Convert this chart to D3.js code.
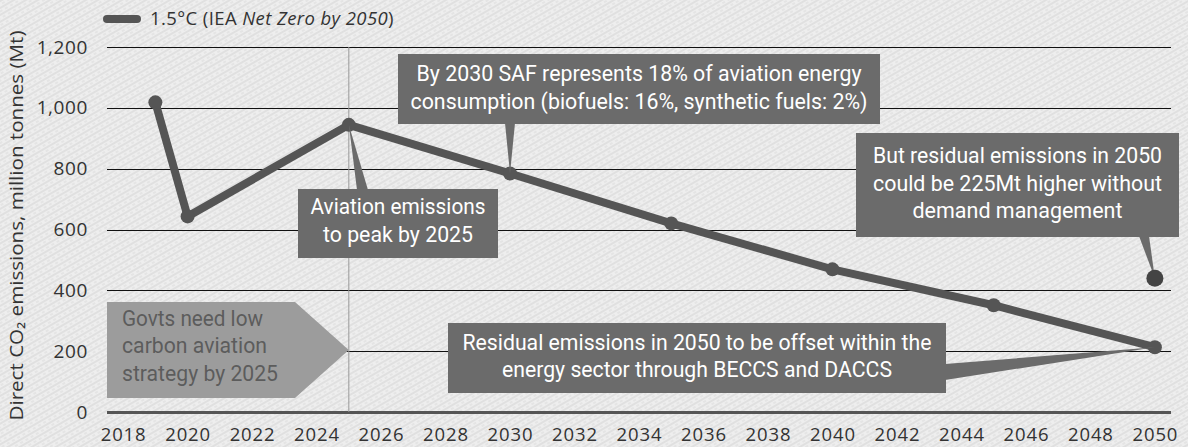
<!DOCTYPE html>
<html><head><meta charset="utf-8">
<script src="https://cdn.jsdelivr.net/npm/d3@7"></script>
<style>
html,body{margin:0;padding:0;background:#ececec;}
svg{display:block;}
</style></head>
<body>
<svg id="chart" width="1188" height="447"></svg>
<script>
// ---- data ----
const years = [2019, 2020, 2025, 2030, 2035, 2040, 2045, 2050];
const emissions = [1018, 643, 944, 784, 620, 469, 351, 213];
const noDemandYear = [2050];
const noDemandValue = [440];
const yTicks = [0, 200, 400, 600, 800, 1000, 1200];
const xTicks = [2018,2020,2022,2024,2026,2028,2030,2032,2034,2036,2038,2040,2042,2044,2046,2048,2050];
const legendLabel = ["1.5°C (IEA ", "Net Zero by 2050", ")"];
const yTitle = "Direct CO₂ emissions, million tonnes (Mt)";

const svg = d3.select("#chart");
const W = 1188, H = 447;
const dark = "#555555";
const boxFill = "#6b6b6b";
const annFont = "Roboto,'DejaVu Sans Condensed',sans-serif";
const tickFont = "'Open Sans',sans-serif";

// background texture
const defs = svg.append("defs");
const pat = defs.append("pattern").attr("id","tex").attr("patternUnits","userSpaceOnUse")
  .attr("width",6).attr("height",6).attr("patternTransform","rotate(-30)");
pat.append("rect").attr("width",6).attr("height",6).attr("fill","#eeeeee");
pat.append("line").attr("x1",0).attr("y1",1).attr("x2",6).attr("y2",1).attr("stroke","#d2d2d2").attr("stroke-width",1);
pat.append("line").attr("x1",0).attr("y1",4).attr("x2",3).attr("y2",4).attr("stroke","#dadada").attr("stroke-width",1);
svg.append("rect").attr("width",W).attr("height",H).attr("fill","url(#tex)");

const x = d3.scaleLinear().domain([2017.5, 2050.5]).range([107, 1171]);
const y = d3.scaleLinear().domain([0, 1200]).range([412, 47]);

// gridlines
const yAxis = d3.axisLeft(y).tickValues(yTicks).tickSize(-(x.range()[1]-x.range()[0]))
  .tickFormat(d3.format(",")).tickPadding(19);
const gy = svg.append("g").attr("transform",`translate(${x.range()[0]},0)`).call(yAxis);
gy.select(".domain").remove();
gy.selectAll(".tick line").attr("stroke","#111").attr("stroke-width",1).attr("shape-rendering","crispEdges")
  .filter(d=>d===0).attr("stroke","#555").attr("stroke-width",2.5);
gy.selectAll(".tick text").attr("font-family",tickFont).attr("font-size",19)
  .attr("letter-spacing",0.6).attr("fill","#333");

const xAxis = d3.axisBottom(x).tickValues(xTicks).tickSize(0).tickFormat(d3.format("d")).tickPadding(16);
const gx = svg.append("g").attr("transform",`translate(0,${y(0)})`).call(xAxis);
gx.select(".domain").remove();
gx.selectAll(".tick text").attr("font-family",tickFont).attr("font-size",18.5)
  .attr("letter-spacing",0.9).attr("fill","#333");

// vertical line at 2025
svg.append("line").attr("x1",x(2025)).attr("x2",x(2025)).attr("y1",y(1200)).attr("y2",y(0))
  .attr("stroke","#999").attr("stroke-width",1);

// y title
svg.append("text").attr("transform",`translate(23,${(y(0)+y(1200))/2-4}) rotate(-90)`)
  .attr("text-anchor","middle").attr("font-family",tickFont).attr("font-size",19).attr("fill","#333")
  .attr("textLength",390).attr("lengthAdjust","spacingAndGlyphs")
  .text(yTitle);

// legend
svg.append("line").attr("x1",107).attr("x2",137).attr("y1",19).attr("y2",19)
  .attr("stroke",dark).attr("stroke-width",8).attr("stroke-linecap","round");
const lt = svg.append("text").attr("x",150).attr("y",25).attr("font-family",tickFont)
  .attr("font-size",18.5).attr("letter-spacing",0.4).attr("fill","#333");
lt.append("tspan").text(legendLabel[0]);
lt.append("tspan").attr("font-style","italic").text(legendLabel[1]);
lt.append("tspan").text(legendLabel[2]);

function fitText(xx, yy, t, len, anchor, fill){
  svg.append("text").attr("x",xx).attr("y",yy).attr("text-anchor",anchor)
    .attr("dominant-baseline","middle").attr("font-family",annFont).attr("font-size",22)
    .attr("textLength",len).attr("lengthAdjust","spacingAndGlyphs")
    .attr("fill",fill).text(t);
}

// Govts arrow
const arrowPts = [[107,302],[295,302],[x(2025),350],[295,398],[107,398]];
svg.append("polygon").attr("points",arrowPts.map(p=>p.join(",")).join(" ")).attr("fill","#9c9c9c");
const govLines = ["Govts need low","carbon aviation","strategy by 2025"];
const govLens = [141,145,156];
govLines.forEach((t,i)=> fitText(122, 320+i*27.5, t, govLens[i], "start", "#5c5c5c"));

// series line
const data = years.map((d,i)=>({year:d, value:emissions[i]}));
const line = d3.line().x(d=>x(d.year)).y(d=>y(d.value));
svg.append("path").datum(data).attr("d",line).attr("fill","none").attr("stroke",dark)
  .attr("stroke-width",8).attr("stroke-linejoin","round").attr("stroke-linecap","round");
svg.selectAll("circle.pt").data(data).enter().append("circle").attr("class","pt")
  .attr("cx",d=>x(d.year)).attr("cy",d=>y(d.value)).attr("r",7).attr("fill",dark);

// annotation helper
function annotate(box, lines, lens, pointer, lineY){
  svg.append("polygon").attr("points",pointer.map(p=>p.join(",")).join(" ")).attr("fill",boxFill);
  svg.append("rect").attr("x",box[0]).attr("y",box[1]).attr("width",box[2]-box[0]).attr("height",box[3]-box[1])
    .attr("fill",boxFill);
  lines.forEach((t,i)=> fitText((box[0]+box[2])/2, lineY[i], t, lens[i], "middle", "#ffffff"));
}

const p2025 = [x(2025), y(944)], p2030 = [x(2030), y(784)], p2050 = [x(2050), y(213)];
const pNoDem = [x(noDemandYear[0]), y(noDemandValue[0])];

annotate([398,54,880,124],
  ["By 2030 SAF represents 18% of aviation energy","consumption (biofuels: 16%, synthetic fuels: 2%)"],
  [445,457], [[505,123],[515,123],p2030], [75,103]);
annotate([298,189,498,258], ["Aviation emissions","to peak by 2025"], [175,150],
  [[357,190],[368,190],p2025], [208,236]);
annotate([856,133,1179,237], ["But residual emissions in 2050","could be 225Mt higher without","demand management"],
  [289,289,210], [[1139,236],[1149,236],pNoDem], [157,185,212]);
annotate([448,323,946,393], ["Residual emissions in 2050 to be offset within the","energy sector through BECCS and DACCS"],
  [469,390], [[945,364],[945,380],p2050], [344,371]);

svg.append("circle").attr("cx",pNoDem[0]).attr("cy",pNoDem[1]).attr("r",8.5).attr("fill","#444");
</script>
</body></html>
